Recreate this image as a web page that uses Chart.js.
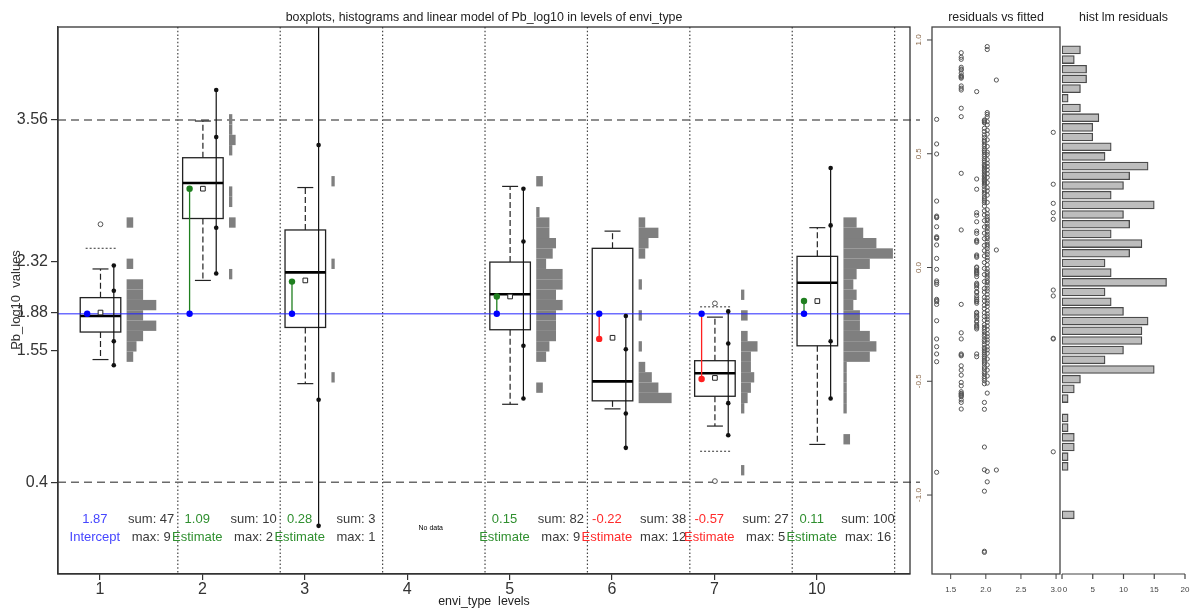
<!DOCTYPE html>
<html>
<head>
<meta charset="utf-8">
<title>Pb_log10 by envi_type</title>
<script src="https://cdn.jsdelivr.net/npm/chart.js@4.4.1/dist/chart.umd.min.js"></script>
<style>
  body { margin: 0; background: #fff; }
  #page { position: relative; width: 1190px; height: 612px; overflow: hidden; }
  #page canvas { position: absolute; top: 0; }
</style>
</head>
<body>
<div id="page">
  <canvas id="mainChart" width="1190" height="612" style="left:0"></canvas>
  <canvas id="residChart" width="160" height="612" style="left:905px"></canvas>
  <canvas id="histChart" width="140" height="612" style="left:1050px"></canvas>
</div>
<script>
const FONT = "'Liberation Sans', Arial, Helvetica, sans-serif";
Chart.defaults.font.family = FONT;
Chart.defaults.animation = false;

// ---- data ---------------------------------------------------------------
const levels = ['1', '2', '3', '4', '5', '6', '7', '10'];
const yTicks = [3.56, 2.32, 1.88, 1.55, 0.4];
const estimates = [1.87, 1.09, 0.28, null, 0.15, -0.22, -0.57, 0.11];
const sums = [47, 10, 3, null, 82, 38, 27, 100];
const maxes = [9, 2, 1, null, 9, 12, 5, 16];

// lower whisker, Q1, median, Q3, upper whisker
const boxStats = [
  [1.47, 1.71, 1.85, 2.01, 2.26],
  [2.16, 2.70, 3.01, 3.23, 3.55],
  [1.26, 1.75, 2.23, 2.60, 2.97],
  null,
  [1.08, 1.73, 2.04, 2.32, 2.98],
  [1.04, 1.11, 1.28, 2.44, 2.59],
  [0.89, 1.15, 1.35, 1.46, 1.84],
  [0.73, 1.59, 2.14, 2.37, 2.62]
];
const means = [1.88, 2.96, 2.16, null, 2.02, 1.66, 1.31, 1.98];
const outliers = [[2.65], [], [], [], [], [], [1.96, 0.41], []];
// interval around the median: outer low, inner low, inner high, outer high
const medianBands = [
  [1.42, 1.63, 2.07, 2.29],
  [2.22, 2.62, 3.41, 3.82],
  [0.02, 1.12, 3.34, 4.44],
  null,
  [1.13, 1.59, 2.50, 2.96],
  [0.70, 1.00, 1.56, 1.85],
  [0.81, 1.09, 1.61, 1.89],
  [1.13, 1.63, 2.64, 3.14]
];
const limitLines = [[2.44], [], [], [], [], [], [1.93, 0.67], []];

// per-level histograms, bins of 0.09 starting at 0.37
const histStart = 0.37;
const histStep = 0.09;
const histFirstBin = [12, 20, 10, null, 9, 8, 1, 4];
const histCounts = [
  [2, 3, 5, 9, 5, 9, 5, 5, 0, 2, 0, 0, 0, 2],
  [1, 0, 0, 0, 0, 2, 0, 1, 1, 0, 0, 0, 1, 2, 1, 1],
  [1, 0, 0, 0, 0, 0, 0, 0, 0, 0, 0, 1, 0, 0, 0, 0, 0, 0, 0, 1],
  null,
  [2, 0, 0, 3, 4, 6, 6, 6, 8, 6, 8, 8, 3, 5, 6, 4, 4, 1, 0, 0, 2],
  [10, 6, 4, 2, 0, 1, 0, 0, 1, 0, 0, 1, 0, 0, 2, 3, 6, 2],
  [1, 0, 0, 0, 0, 0, 1, 2, 3, 4, 3, 3, 5, 2, 0, 2, 0, 1],
  [2, 0, 0, 1, 1, 1, 1, 1, 8, 10, 8, 5, 5, 3, 4, 3, 4, 8, 15, 10, 6, 4]
];

// model residuals per level
const resid1 = [0.773, 0.389, 0.344, 0.241, 0.230, 0.201, 0.160, 0.150, 0.120, 0.116, 0.111, 0.055,
  0.050, 0.045, 0.002, -0.001, -0.011, -0.016, -0.021, -0.025, -0.030, -0.040, -0.069, -0.075,
  -0.080, -0.090, -0.106, -0.110, -0.124, -0.133, -0.140, -0.147, -0.150, -0.157, -0.197, -0.200,
  -0.209, -0.215, -0.221, -0.234, -0.240, -0.253, -0.258, -0.263, -0.270, -0.380, -0.392];
const resid2 = [0.594, 0.366, 0.282, 0.241, 0.212, -0.099, -0.125, -0.311, -0.314, -0.810];
const resid3 = [0.824, 0.077, -0.890];
const resid5 = [0.971, 0.958, 0.673, 0.681, 0.662, 0.641, 0.627, 0.603, 0.586, 0.561, 0.532,
  0.507, 0.496, 0.474, 0.458, 0.444, 0.429, 0.412, 0.396, 0.373, 0.351, 0.337, 0.318, 0.286, 0.254,
  0.236, 0.224, 0.213, 0.206, 0.193, 0.181, 0.172, 0.158, 0.146, 0.135, 0.127, 0.113, 0.102, 0.094,
  0.083, 0.068, 0.057, 0.043, 0.031, 0.012, -0.006, -0.019, -0.027, -0.038, -0.047, -0.059, -0.066,
  -0.078, -0.091, -0.103, -0.118, -0.133, -0.147, -0.158, -0.171, -0.189, -0.204, -0.216, -0.228,
  -0.241, -0.257, -0.273, -0.291, -0.304, -0.318, -0.331, -0.349, -0.362, -0.377, -0.402, -0.428,
  -0.451, -0.477, -0.508, -0.552, -0.896, -0.942];
const resid6 = [0.944, 0.924, 0.915, 0.880, 0.872, 0.868, 0.854, 0.843, 0.840, 0.836, 0.832, 0.798,
  0.788, 0.780, 0.700, 0.663, 0.414, 0.165, -0.162, -0.287, -0.314, -0.380, -0.384, -0.388, -0.432,
  -0.451, -0.473, -0.505, -0.520, -0.546, -0.553, -0.556, -0.560, -0.564, -0.568, -0.582, -0.593, -0.622];
const resid7 = [0.651, 0.543, 0.499, 0.292, 0.226, 0.222, 0.219, 0.179, 0.135, 0.131, 0.128, 0.099,
  0.040, -0.008, -0.059, -0.066, -0.074, -0.140, -0.145, -0.150, -0.162, -0.234, -0.314, -0.348,
  -0.380, -0.414, -0.900];
const resid10 = [0.645, 0.640, 0.636, 0.648, 0.612, 0.598, 0.583, 0.571, 0.560, 0.553, 0.541, 0.533,
  0.522, 0.515, 0.508, 0.497, 0.489, 0.478, 0.470, 0.463, 0.452, 0.447, 0.441, 0.433, 0.426, 0.420,
  0.412, 0.405, 0.399, 0.392, 0.386, 0.381, 0.377, 0.371, 0.366, 0.356, 0.342, 0.331, 0.322, 0.310,
  0.301, 0.293, 0.285, 0.270, 0.249, 0.231, 0.206, 0.178, 0.151, 0.127, 0.097, 0.074, 0.051, 0.022,
  -0.004, -0.031, -0.062, -0.092, -0.108, -0.131, -0.147, -0.166, -0.181, -0.199, -0.215, -0.232,
  -0.251, -0.263, -0.271, -0.282, -0.294, -0.303, -0.317, -0.326, -0.339, -0.352, -0.358, -0.366,
  -0.375, -0.383, -0.391, -0.398, -0.407, -0.415, -0.424, -0.437, -0.446, -0.458, -0.467, -0.479,
  -0.488, -0.497, -0.511, -0.593, -0.623, -0.789, -0.889, -0.983, -1.247, -1.252];
const residByLevel = [resid1, resid2, resid3, null, resid5, resid6, resid7, resid10];

// histogram of all residuals, top bin first
const residHistCounts = [3, 2, 4, 4, 3, 1, 3, 6, 5, 5, 8, 7, 14, 11, 10, 8, 15, 10, 11, 8, 13, 11,
  7, 8, 17, 7, 8, 10, 14, 13, 13, 10, 7, 15, 3, 2, 1, 0, 1, 1, 2, 2, 1, 1, 0, 0, 0, 0, 2];
const residTicks = [1.0, 0.5, 0.0, -0.5, -1.0];
const fittedTicks = [1.5, 2.0, 2.5, 3.0];
const countTicks = [0, 5, 10, 15, 20];

// ---- layout / styles ----------------------------------------------------
const OFF = { fit: -0.125, box: 0.005, band: 0.135, hist: 0.26, sep: 0.76, text: -0.05, stats: 0.5, noData: 0.23 };
const BOX_HALF = 0.198, CAP_HALF = 0.078, LIMIT_L = -0.14, LIMIT_R = 0.16, HIST_UNIT = 0.0322;
const ROW_VALUE = 0.08, ROW_LABEL = -0.08;
const BLUE = '#0000ff', GREEN = '#1f7f1f', RED = '#ff2020';
const TEXT_BLUE = '#4646ff', TEXT_GREEN = '#2f8f2f', TEXT_RED = '#ff2a2a';

const intercept = estimates[0];
const fitted = estimates.map((e, i) => e === null ? null : (i === 0 ? e : intercept + e));

function seg(ctx, x1, y1, x2, y2) {
  ctx.beginPath(); ctx.moveTo(x1, y1); ctx.lineTo(x2, y2); ctx.stroke();
}

// ---- main panel -----------------------------------------------------------
const mainSets = [];
estimates.forEach((e, i) => {
  if (e === null) return;
  const col = i === 0 ? BLUE : (e > 0 ? GREEN : RED);
  const xv = i + 1 + OFF.fit;
  const pts = i === 0 ? [{ x: xv, y: intercept }] : [{ x: xv, y: intercept }, { x: xv, y: fitted[i] }];
  mainSets.push({
    data: pts, showLine: true, borderColor: col, borderWidth: 1.3,
    pointRadius: 3.2, pointBorderWidth: 0,
    pointBackgroundColor: pts.map((_, k) => k === 0 ? BLUE : col)
  });
});
mainSets.push({
  data: means.flatMap((m, i) => m === null ? [] : [{ x: i + 1 + OFF.box, y: m }]),
  pointStyle: 'rect', pointRadius: 3.3, pointBackgroundColor: '#fff',
  pointBorderColor: '#222', pointBorderWidth: 1
});
mainSets.push({
  data: outliers.flatMap((vals, i) => vals.map(v => ({ x: i + 1 + OFF.box, y: v }))),
  pointRadius: 2.4, pointBackgroundColor: '#fff', pointBorderColor: '#555', pointBorderWidth: 1
});
medianBands.forEach((band, i) => {
  if (!band) return;
  mainSets.push({
    data: band.map(v => ({ x: i + 1 + OFF.band, y: v })),
    showLine: true, borderColor: '#111', borderWidth: 1.2,
    pointRadius: 2.3, pointBackgroundColor: '#111', pointBorderWidth: 0
  });
});

const groupDecor = {
  id: 'groupDecor',
  beforeDatasetsDraw(chart) {
    const { ctx, chartArea: a, scales: { x, y } } = chart;
    ctx.save();

    // level separators
    ctx.strokeStyle = '#444'; ctx.lineWidth = 1.2; ctx.setLineDash([1.5, 2.2]);
    levels.forEach((_, i) => {
      const px = x.getPixelForValue(i + 1 + OFF.sep);
      seg(ctx, px, a.top, px, a.bottom);
    });

    // dashed reference lines at the outer y ticks
    ctx.strokeStyle = '#6a6a6a'; ctx.lineWidth = 1.5; ctx.setLineDash([8, 5]);
    [yTicks[0], yTicks[yTicks.length - 1]].forEach(v => {
      const py = y.getPixelForValue(v);
      seg(ctx, a.left, py, a.right + 10, py);
    });
    ctx.setLineDash([]);

    ctx.beginPath(); ctx.rect(a.left, a.top, a.width, a.height); ctx.clip();

    // histograms beside each box
    ctx.fillStyle = '#7f7f7f';
    histCounts.forEach((counts, i) => {
      if (!counts) return;
      const x0 = x.getPixelForValue(i + 1 + OFF.hist);
      counts.forEach((c, j) => {
        if (!c) return;
        const lo = histStart + (histFirstBin[i] + j) * histStep;
        const yTop = y.getPixelForValue(lo + histStep), yBot = y.getPixelForValue(lo);
        const x1 = x.getPixelForValue(i + 1 + OFF.hist + c * HIST_UNIT);
        ctx.fillRect(x0, yTop, x1 - x0, yBot - yTop);
      });
    });

    // boxplots
    boxStats.forEach((b, i) => {
      if (!b) return;
      const [lo, q1, med, q3, hi] = b;
      const cx = i + 1 + OFF.box;
      const l = x.getPixelForValue(cx - BOX_HALF), r = x.getPixelForValue(cx + BOX_HALF);
      const m = x.getPixelForValue(cx);
      const cl = x.getPixelForValue(cx - CAP_HALF), cr = x.getPixelForValue(cx + CAP_HALF);
      ctx.strokeStyle = '#222'; ctx.lineWidth = 1.2;
      ctx.setLineDash([6, 3]);
      seg(ctx, m, y.getPixelForValue(q3), m, y.getPixelForValue(hi));
      seg(ctx, m, y.getPixelForValue(q1), m, y.getPixelForValue(lo));
      ctx.setLineDash([]);
      seg(ctx, cl, y.getPixelForValue(hi), cr, y.getPixelForValue(hi));
      seg(ctx, cl, y.getPixelForValue(lo), cr, y.getPixelForValue(lo));
      ctx.lineWidth = 1.3;
      ctx.strokeRect(l, y.getPixelForValue(q3), r - l, y.getPixelForValue(q1) - y.getPixelForValue(q3));
      ctx.strokeStyle = '#000'; ctx.lineWidth = 2.6;
      seg(ctx, l, y.getPixelForValue(med), r, y.getPixelForValue(med));
    });

    // dotted limit lines
    ctx.strokeStyle = '#555'; ctx.lineWidth = 1.2; ctx.setLineDash([2, 2]);
    limitLines.forEach((vals, i) => vals.forEach(v => {
      const py = y.getPixelForValue(v);
      seg(ctx, x.getPixelForValue(i + 1 + LIMIT_L), py, x.getPixelForValue(i + 1 + LIMIT_R), py);
    }));
    ctx.setLineDash([]);

    // intercept line
    ctx.strokeStyle = 'rgba(30, 30, 255, 0.65)'; ctx.lineWidth = 1.6;
    const iy = y.getPixelForValue(intercept);
    seg(ctx, a.left, iy, a.right, iy);
    ctx.restore();
  },
  afterDraw(chart) {
    const { ctx, chartArea: a, scales: { x, y } } = chart;
    ctx.save();
    ctx.strokeStyle = '#333'; ctx.lineWidth = 1.3;
    ctx.strokeRect(a.left, a.top, a.width, a.height);

    ctx.textAlign = 'center'; ctx.textBaseline = 'middle';
    ctx.fillStyle = '#222'; ctx.font = `12.4px ${FONT}`;
    ctx.fillText('boxplots, histograms and linear model of Pb_log10 in levels of envi_type', (a.left + a.right) / 2, 18);
    ctx.fillText('envi_type  levels', (a.left + a.right) / 2, 602);
    ctx.save();
    ctx.translate(16, 300); ctx.rotate(-Math.PI / 2);
    ctx.font = `13px ${FONT}`; ctx.fillStyle = '#333';
    ctx.fillText('Pb_log10  values', 0, 0);
    ctx.restore();

    const yv = y.getPixelForValue(ROW_VALUE), yl = y.getPixelForValue(ROW_LABEL);
    ctx.font = `13px ${FONT}`;
    estimates.forEach((e, i) => {
      if (e === null) {
        ctx.font = `7px ${FONT}`; ctx.fillStyle = '#000';
        ctx.fillText('No data', x.getPixelForValue(i + 1 + OFF.noData), y.getPixelForValue(0));
        ctx.font = `13px ${FONT}`;
        return;
      }
      const tx = x.getPixelForValue(i + 1 + OFF.text);
      ctx.fillStyle = i === 0 ? TEXT_BLUE : (e > 0 ? TEXT_GREEN : TEXT_RED);
      ctx.fillText(e.toFixed(2), tx, yv);
      ctx.fillText(i === 0 ? 'Intercept' : 'Estimate', tx, yl);
      const sx = x.getPixelForValue(i + 1 + OFF.stats);
      ctx.fillStyle = '#3a3a3a';
      ctx.fillText('sum: ' + sums[i], sx, yv);
      ctx.fillText('max: ' + maxes[i], sx, yl);
    });
    ctx.restore();
  }
};

new Chart(document.getElementById('mainChart'), {
  type: 'scatter',
  data: { datasets: mainSets },
  options: {
    responsive: false,
    events: [],
    layout: { padding: { left: 0, top: 27, right: 280, bottom: 0 } },
    plugins: { legend: { display: false }, tooltip: { enabled: false } },
    scales: {
      x: {
        min: 0.59, max: 8.91,
        afterBuildTicks: s => { s.ticks = levels.map((_, i) => ({ value: i + 1 })); },
        afterFit: s => { s.height = 38; },
        ticks: { autoSkip: false, maxRotation: 0, padding: 0, color: '#333', font: { size: 16 },
          callback: v => levels[Math.round(v) - 1] },
        grid: { drawOnChartArea: false, tickLength: 6, color: '#333', lineWidth: 1.2 },
        border: { display: true, color: '#333', width: 1.3 }
      },
      y: {
        min: -0.40, max: 4.37,
        afterBuildTicks: s => { s.ticks = yTicks.map(v => ({ value: v })); },
        afterFit: s => { s.width = 58; },
        ticks: { autoSkip: false, padding: 3, color: '#333', font: { size: 16 }, callback: v => String(v) },
        grid: { drawOnChartArea: false, tickLength: 7, color: '#333', lineWidth: 1.2 },
        border: { display: true, color: '#333', width: 1.3 }
      }
    }
  },
  plugins: [groupDecor]
});

// ---- residuals vs fitted ---------------------------------------------------
const residDecor = {
  id: 'residDecor',
  afterDraw(chart) {
    const { ctx, chartArea: a, scales: { x, y } } = chart;
    ctx.save();
    ctx.strokeStyle = '#444'; ctx.lineWidth = 1.3;
    ctx.strokeRect(a.left, a.top, a.width, a.height);
    ctx.textAlign = 'center'; ctx.textBaseline = 'middle';
    ctx.font = `12.4px ${FONT}`; ctx.fillStyle = '#222';
    ctx.fillText('residuals vs fitted', (a.left + a.right) / 2, 18);

    ctx.lineWidth = 1; ctx.font = `8px ${FONT}`;
    residTicks.forEach(v => {
      const py = y.getPixelForValue(v);
      seg(ctx, a.left - 5, py, a.left, py);
      ctx.save();
      ctx.translate(a.left - 13, py); ctx.rotate(-Math.PI / 2);
      ctx.fillStyle = '#8b6a4c';
      ctx.fillText(v.toFixed(1), 0, 0);
      ctx.restore();
    });
    ctx.fillStyle = '#444';
    fittedTicks.forEach(v => {
      const px = x.getPixelForValue(v);
      seg(ctx, px, a.bottom, px, a.bottom + 5);
      ctx.fillText(v.toFixed(1), px, a.bottom + 16);
    });
    ctx.restore();
  }
};

new Chart(document.getElementById('residChart'), {
  type: 'scatter',
  data: {
    datasets: residByLevel.flatMap((r, i) => r ? [{
      data: r.map(v => ({ x: fitted[i], y: v })),
      pointRadius: 2.1, pointBackgroundColor: 'rgba(0,0,0,0)',
      pointBorderColor: '#555', pointBorderWidth: 1
    }] : [])
  },
  options: {
    responsive: false,
    events: [],
    layout: { padding: { left: 27, top: 27, right: 3, bottom: 38 } },
    plugins: { legend: { display: false }, tooltip: { enabled: false } },
    scales: {
      x: { display: false, min: 1.234, max: 3.056 },
      y: { display: false, min: -1.347, max: 1.057 }
    }
  },
  plugins: [residDecor]
});

// ---- histogram of residuals ------------------------------------------------
const histDecor = {
  id: 'histDecor',
  afterDraw(chart) {
    const { ctx, chartArea: a, scales: { x } } = chart;
    ctx.save();
    ctx.strokeStyle = '#444'; ctx.lineWidth = 1.2;
    seg(ctx, x.getPixelForValue(0), a.bottom, x.getPixelForValue(20), a.bottom);
    ctx.textAlign = 'center'; ctx.textBaseline = 'middle';
    ctx.font = `8px ${FONT}`; ctx.fillStyle = '#444';
    countTicks.forEach(v => {
      const px = x.getPixelForValue(v);
      seg(ctx, px, a.bottom, px, a.bottom + 5);
      ctx.fillText(String(v), px + (v === 0 ? 3 : 0), a.bottom + 16);
    });
    ctx.font = `12.4px ${FONT}`; ctx.fillStyle = '#222';
    ctx.fillText('hist lm residuals', (a.left + a.right) / 2, 18);
    ctx.restore();
  }
};

new Chart(document.getElementById('histChart'), {
  type: 'bar',
  data: {
    datasets: [{
      data: residHistCounts.map((c, k) => ({ x: c, y: k })),
      backgroundColor: '#bdbdbd', borderColor: '#4a4a4a', borderWidth: 1.3,
      borderSkipped: false, barThickness: 8
    }]
  },
  options: {
    indexAxis: 'y',
    responsive: false,
    events: [],
    layout: { padding: { left: 12, top: 27, right: 5, bottom: 38 } },
    plugins: { legend: { display: false }, tooltip: { enabled: false } },
    scales: {
      x: { display: false, min: 0, max: 20 },
      y: { type: 'linear', display: false, offset: false, reverse: true, min: -2.36, max: 54.11 }
    }
  },
  plugins: [histDecor]
});
</script>
</body>
</html>
